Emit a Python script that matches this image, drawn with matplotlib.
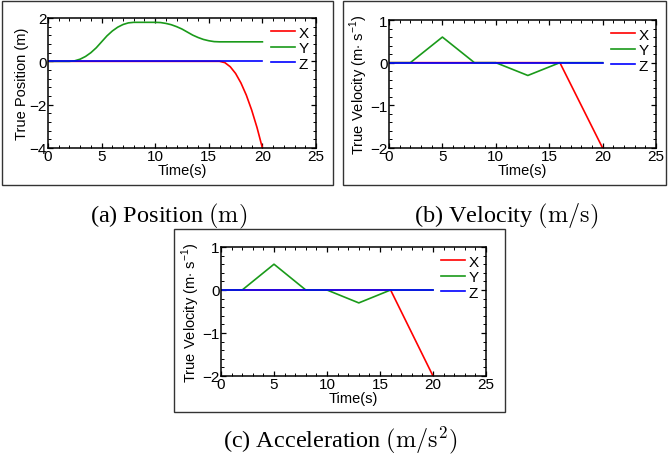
import matplotlib
matplotlib.use("Agg")
import matplotlib.pyplot as plt
from matplotlib.ticker import AutoMinorLocator, MultipleLocator
from matplotlib.patches import Rectangle

plt.rcParams['font.family'] = ['Liberation Sans', 'DejaVu Sans']
plt.rcParams['mathtext.fontset'] = 'custom'
plt.rcParams['mathtext.rm'] = 'Liberation Sans'

# === DATOS: POSICION (cada 0.5 s) ===
t_pos = [0, 0.5, 1, 1.5, 2, 2.5, 3, 3.5, 4, 4.5, 5, 5.5, 6, 6.5, 7, 7.5, 8,
         8.5, 9, 9.5, 10, 10.5, 11, 11.5, 12, 12.5, 13, 13.5, 14, 14.5, 15,
         15.5, 16, 16.5, 17, 17.5, 18, 18.5, 19, 19.5, 20]
pos_x = [0] * 33 + [-0.06, -0.25, -0.56, -1.0, -1.56, -2.25, -3.06, -4.0]
pos_y = [0, 0, 0, 0, 0, 0.025, 0.1, 0.225, 0.4, 0.625, 0.9, 1.175, 1.4, 1.575,
         1.7, 1.775, 1.8, 1.8, 1.8, 1.8, 1.8, 1.79, 1.75, 1.69, 1.6, 1.49, 1.35,
         1.21, 1.1, 1.01, 0.95, 0.91, 0.9, 0.9, 0.9, 0.9, 0.9, 0.9, 0.9, 0.9, 0.9]
pos_z = [0] * 41

# === DATOS: VELOCIDAD ===
t_vx = [0, 16, 20]
vel_x = [0, 0, -2]
t_vy = [0, 2, 5, 8, 10, 13, 16, 20]
vel_y = [0, 0, 0.6, 0, 0, -0.3, 0, 0]
t_vz = [0, 20]
vel_z = [0, 0]

captions = [r"(a) Position $(\mathrm{m})$", r"(b) Velocity $(\mathrm{m/s})$",
            r"(c) Acceleration $(\mathrm{m/s}^2)$"]
ylabels = ["True Position (m)", r"True Velocity (m$\cdot$ s$^{-1}$)",
           r"True Velocity (m$\cdot$ s$^{-1}$)"]

W, H = 669, 464
fig = plt.figure(figsize=(W / 100, H / 100), dpi=100)

# cajas (px): marco exterior, ejes, centro del pie
boxes = [
    dict(frame=(2, 2, 333, 186), ax=(48, 19, 316, 149), cap=(169, 216)),
    dict(frame=(343, 2, 666, 186), ax=(389, 21, 656, 149), cap=(506, 216)),
    dict(frame=(174, 230, 505, 413), ax=(221, 248, 486, 377), cap=(340, 440)),
]


def fx(px):
    return px / W


def fy(py):
    return 1 - py / H


def style_axes(ax):
    ax.set_xlim(0, 25)
    ax.xaxis.set_major_locator(MultipleLocator(5))
    ax.xaxis.set_minor_locator(AutoMinorLocator(5))
    ax.yaxis.set_minor_locator(AutoMinorLocator(5))
    ax.tick_params(which='both', direction='in', top=True, right=True,
                   labelsize=11, pad=1)
    ax.tick_params(which='major', length=3.5, width=0.9)
    ax.tick_params(which='minor', length=2, width=0.7)
    for s in ax.spines.values():
        s.set_linewidth(1.1)
    ax.set_xlabel("Time(s)", fontsize=10.5, labelpad=0)
    ax.legend(loc='upper right', frameon=False, fontsize=11,
              handlelength=1.6, handletextpad=0.2, labelspacing=0.1,
              borderaxespad=0.1)


for i, b in enumerate(boxes):
    x0, y0, x1, y1 = b["frame"]
    fig.patches.append(Rectangle((fx(x0), fy(y1)), fx(x1) - fx(x0), fy(y0) - fy(y1),
                                 transform=fig.transFigure, fill=False,
                                 edgecolor='#333333', linewidth=1.0))
    a0, b0, a1, b1 = b["ax"]
    ax = fig.add_axes([fx(a0), fy(b1), fx(a1) - fx(a0), fy(b0) - fy(b1)])
    if i == 0:
        ax.plot(t_pos, pos_x, color='red', lw=1.2, label='X')
        ax.plot(t_pos, pos_y, color='#1a9a1a', lw=1.2, label='Y')
        ax.plot(t_pos, pos_z, color='blue', lw=1.2, label='Z')
        ax.set_ylim(-4, 2)
        ax.yaxis.set_major_locator(MultipleLocator(2))
    else:
        ax.plot(t_vx, vel_x, color='red', lw=1.2, label='X')
        ax.plot(t_vy, vel_y, color='#1a9a1a', lw=1.2, label='Y')
        ax.plot(t_vz, vel_z, color='blue', lw=1.2, label='Z')
        ax.set_ylim(-2, 1)
        ax.yaxis.set_major_locator(MultipleLocator(1))
    ax.set_ylabel(ylabels[i], fontsize=10.5, labelpad=0.5)
    style_axes(ax)
    cx, cy = b["cap"]
    fig.text(fx(cx), fy(cy), captions[i], ha='center', va='center',
             fontsize=17.5, family='Liberation Serif', math_fontfamily='cm')

fig.savefig("out.png", dpi=100)
